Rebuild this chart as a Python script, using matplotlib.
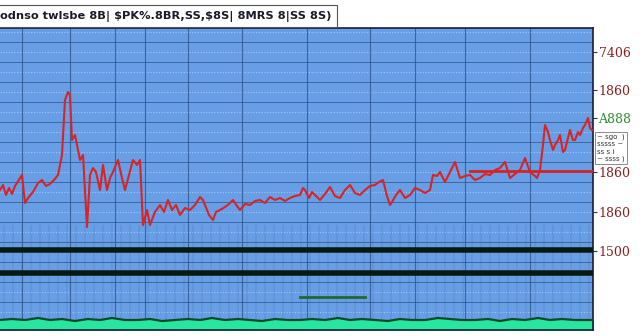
import numpy as np
import matplotlib.pyplot as plt

# red series: column position and value (0 = bottom of the plot)
red_x = [0, 3, 6, 9, 12, 15, 20, 22, 25, 28, 33, 38, 42, 46, 50, 54, 58, 62, 65, 68,
         70, 72, 75, 78, 80, 83, 87, 90, 93, 96, 100, 103, 107, 110, 113, 118, 122, 125, 129, 133,
         137, 140, 143, 147, 150, 155, 160, 164, 168, 172, 176, 180, 185, 190, 195, 200, 203, 205, 209, 213,
         216, 220, 225, 229, 233, 237, 240, 245, 250, 255, 260, 265, 270, 275, 280, 285, 290, 295, 300, 303,
         305, 309, 312, 315, 320, 325, 330, 335, 340, 345, 350, 355, 360, 365, 370, 375, 379, 383, 387, 390,
         392, 396, 400, 405, 410, 415, 420, 425, 430, 433, 437, 440, 445, 450, 455, 460, 465, 470, 475, 480,
         485, 490, 495, 500, 505, 510, 515, 520, 525, 530, 535, 537, 540, 543, 545, 548, 550, 553, 555, 558,
         560, 563, 565, 568, 570, 573, 575, 578, 580, 583, 585, 588, 590, 592]
red_y = [140, 145, 135, 142, 136, 144, 152, 155, 127, 132, 138, 147, 150, 144, 146, 150, 155, 175, 230, 238,
         235, 190, 195, 180, 170, 175, 103, 155, 162, 158, 140, 165, 140, 152, 158, 170, 152, 140, 155, 170,
         165, 170, 105, 120, 105, 118, 125, 118, 130, 120, 125, 115, 122, 120, 125, 133, 130, 125, 115, 110,
         118, 120, 123, 126, 130, 124, 120, 126, 125, 129, 130, 127, 133, 130, 132, 129, 132, 134, 135, 142,
         140, 132, 138, 135, 130, 136, 143, 134, 132, 140, 145, 137, 135, 140, 144, 145, 148, 150, 134, 125,
         128, 135, 140, 132, 135, 142, 140, 137, 140, 155, 154, 158, 148, 158, 168, 152, 154, 155, 150, 152,
         156, 155, 160, 162, 168, 152, 156, 160, 172, 158, 154, 152, 160, 185, 205, 198, 190, 180, 185, 190,
         195, 178, 180, 192, 200, 190, 190, 198, 195, 202, 205, 212, 202, 200]

# flat red level on the right
level_x = [470, 593]
level_y = [159, 159]

# black bands and short green segment
band_levels = [80, 57]
seg_x = [300, 365]
seg_y = [33, 33]

# green strip at the bottom
green_x = [0, 12, 25, 38, 50, 62, 75, 88, 100, 112, 125, 138, 150, 162, 175, 188, 200, 212, 225, 238,
           250, 262, 275, 288, 300, 312, 325, 338, 350, 362, 375, 388, 400, 412, 425, 438, 450, 462, 475, 488,
           500, 512, 525, 538, 550, 562, 575, 593]
green_y = [10, 11, 10, 12, 10, 11, 9, 11, 10, 12, 10, 10, 11, 9, 10, 11, 10, 12, 10, 11,
           10, 9, 11, 10, 10, 11, 10, 12, 10, 11, 10, 9, 11, 10, 10, 12, 11, 10, 10, 11,
           9, 11, 10, 12, 10, 11, 10, 10]

right_ticks = [278, 240, 212, 158, 118, 79]
right_labels = ['7406', '1860', 'A888', '1860', '1860', '1500']
label_colors = ['#8b1f1f', '#8b1f1f', '#2e8b2e', '#8b1f1f', '#8b1f1f', '#8b1f1f']

major_x = [22, 70, 115, 145, 188, 242, 307, 370, 415, 465, 530]

title = r'odnso twlsbe 8B| \$PK%.8BR,SS,\$8S| 8MRS 8|SS 8S)'

fig = plt.figure(figsize=(6.4, 3.36), dpi=100)
ax = fig.add_axes([0, 6/336, 593/640, 302/336])
ax.set_facecolor('#679ee6')
ax.set_xlim(0, 593)
ax.set_ylim(0, 302)

# grid: solid lines with lighter dotted ones between
for i, yv in enumerate(np.arange(8, 302, 10)):
    if i % 2 == 0:
        ax.axhline(yv, color='#2f4f84', lw=0.7, alpha=0.7, zorder=1)
    else:
        ax.axhline(yv, color='#d6e4f7', lw=0.8, ls=(0, (1, 1.5)), alpha=0.55, zorder=1)
ax.vlines(major_x, 0, 302, color='#2f4f84', lw=0.8, alpha=0.75, zorder=1)
ax.vlines(np.arange(4, 593, 9), 0, 105, color='#3d5f92', lw=0.35, alpha=0.5, zorder=1)

# lower traces
ax.fill_between(green_x, 0, green_y, color='#27e6a0', zorder=2)
ax.plot(green_x, green_y, color='#0f4a22', lw=1.6, zorder=3)
for b in band_levels:
    ax.axhline(b, color='#071a10', lw=4, zorder=3)
ax.plot(seg_x, seg_y, color='#1d6a2c', lw=2, zorder=3)

# red trace
ax.plot(level_x, level_y, color='#d42222', lw=2, zorder=4)
ax.plot(red_x, red_y, color='#d92424', lw=1.5, zorder=5)

ax.set_xticks([])
ax.yaxis.tick_right()
ax.set_yticks(right_ticks)
ax.set_yticklabels(right_labels, fontsize=9, family='DejaVu Serif')
for lab, c in zip(ax.get_yticklabels(), label_colors):
    lab.set_color(c)
ax.tick_params(axis='y', length=3, width=0.8, color='#333333', pad=1)
ax.spines['left'].set_visible(False)
for s in ['top', 'right', 'bottom']:
    ax.spines[s].set_color('#1c1c3a')
    ax.spines[s].set_linewidth(1.2)

# title box
fig.text(0.0, 1 - 16/336, title, fontsize=8.2, fontweight='bold', family='DejaVu Sans',
         color='#1a1a2a', va='center', ha='left',
         bbox=dict(boxstyle='square,pad=0.45', fc='white', ec='#555555', lw=0.8))

# small legend box
fig.text(597/640, 1 - 148/336, '~ sgo  )\nsssss ~\nss s i  \n~ ssss )', fontsize=5, color='#333333',
         va='center', ha='left', linespacing=1.25,
         bbox=dict(boxstyle='square,pad=0.3', fc='white', ec='#777777', lw=0.6))

fig.savefig('out.png', dpi=100)
